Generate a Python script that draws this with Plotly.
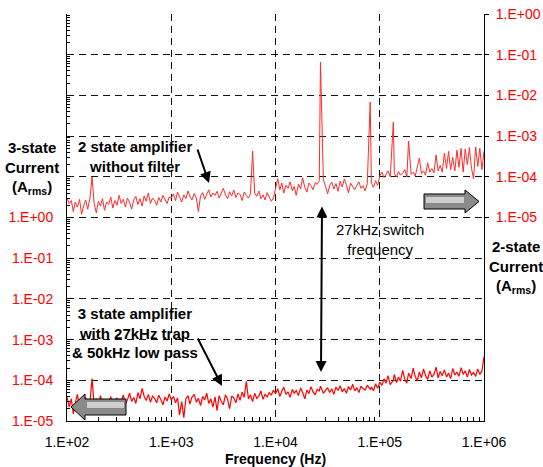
import numpy as np
import plotly.graph_objects as go

# Sweep frequencies (Hz)
freq_hz = [
    100, 105, 110, 115, 120, 126, 132, 138, 145, 151,
    158, 166, 174, 182, 191, 200, 209, 219, 229, 240,
    251, 263, 275, 288, 302, 316, 331, 347, 363, 380,
    398, 417, 437, 457, 479, 501, 525, 550, 575, 603,
    631, 661, 692, 724, 759, 794, 832, 871, 912, 955,
    1000, 1050, 1100, 1150, 1200, 1260, 1320, 1380, 1450, 1510,
    1580, 1660, 1740, 1820, 1910, 2000, 2090, 2190, 2290, 2400,
    2510, 2630, 2750, 2880, 3020, 3160, 3310, 3470, 3630, 3800,
    3980, 4170, 4370, 4570, 4790, 5010, 5250, 5500, 5750, 6030,
    6310, 6610, 6920, 7240, 7590, 7940, 8320, 8710, 9120, 9550,
    10000, 10500, 11000, 11500, 12000, 12600, 13200, 13800, 14500, 15100,
    15800, 16600, 17400, 18200, 19100, 20000, 20900, 21900, 22900, 24000,
    25100, 26300, 27000, 28800, 30200, 31600, 33100, 34700, 36300, 38000,
    39800, 41700, 43700, 45700, 47900, 50100, 52500, 55000, 57500, 60300,
    63100, 66100, 69200, 72400, 75900, 81000, 83200, 87100, 91200, 95500,
    100000, 105000, 110000, 115000, 120000, 126000, 135000, 138000, 145000, 151000,
    158000, 166000, 174000, 182000, 189000, 200000, 209000, 219000, 229000, 240000,
    251000, 263000, 275000, 288000, 302000, 316000, 331000, 347000, 363000, 380000,
    398000, 417000, 437000, 457000, 479000, 501000, 525000, 550000, 575000, 603000,
    631000, 661000, 692000, 724000, 759000, 794000, 832000, 871000, 912000, 955000,
    1000000,
]

# 2-state amplifier without filter, current in uA rms (right axis)
two_state_uA = [
    30, 22, 26, 14, 24, 18, 28, 12, 20, 27,
    16, 30, 100, 22, 13, 25, 19, 29, 15, 24,
    21, 32, 17, 26, 20, 35, 22, 28, 18, 30,
    24, 16, 27, 33, 21, 29, 19, 34, 25, 40,
    22, 30, 26, 20, 31, 24, 35, 27, 22, 32,
    30, 38, 26, 42, 31, 24, 36, 29, 45, 33,
    27, 39, 30, 14, 34, 41, 28, 37, 48, 32,
    40, 35, 44, 30, 38, 52, 36, 29, 43, 34,
    47, 31, 40, 37, 26, 42, 35, 30, 38, 430,
    40, 33, 45, 29, 36, 27, 41, 32, 25, 30,
    55, 90, 48, 70, 40, 62, 52, 75, 45, 58,
    35, 66, 50, 95, 55, 42, 70, 60, 48, 72,
    65, 80, 66000, 85, 58, 38, 62, 74, 50, 68,
    44, 78, 56, 88, 64, 40, 70, 58, 48, 62,
    75, 52, 60, 45, 68, 6900, 70, 55, 80, 62,
    105, 130, 95, 115, 140, 100, 2200, 120, 98, 135,
    110, 125, 150, 100, 760, 115, 130, 105, 170, 290,
    120, 140, 110, 220, 130, 160, 125, 345, 140, 190,
    130, 380, 160, 420, 150, 300, 140, 450, 170, 500,
    130, 480, 200, 520, 160, 90, 540, 180, 500, 150,
    420,
]

# 3-state amplifier with 27 kHz trap and 50 kHz low pass, uA rms (left axis)
three_state_uA = [
    40, 22, 35, 15, 28, 45, 20, 33, 26, 38,
    18, 30, 110, 25, 36, 21, 42, 28, 19, 34,
    27, 40, 23, 31, 37, 22, 29, 44, 26, 33,
    48, 30, 38, 27, 50, 35, 63, 40, 32, 45,
    29, 41, 36, 28, 43, 34, 25, 39, 31, 46,
    33, 40, 28, 37, 14, 30, 12, 35, 42, 26,
    38, 45, 29, 36, 24, 40, 33, 48, 27, 35,
    22, 39, 18, 42, 30, 25, 44, 34, 20, 41,
    37, 28, 46, 32, 52, 38, 95, 35, 44, 30,
    48, 36, 41, 55, 34, 45, 39, 50, 43, 58,
    47, 62, 40, 55, 68, 45, 52, 38, 60, 48,
    56, 42, 65, 50, 35, 58, 47, 70, 52, 44,
    60, 55, 72, 48, 58, 66, 50, 62, 45, 68,
    56, 74, 52, 63, 48, 70, 58, 80, 55, 66,
    50, 72, 62, 58, 76, 60, 68, 55, 82, 64,
    90, 75, 110, 85, 130, 78, 100, 140, 88, 120,
    95, 175, 105, 85, 150, 110, 200, 125, 95, 160,
    115, 190, 130, 105, 170, 120, 140, 210, 115, 165,
    130, 180, 120, 150, 110, 195, 135, 160, 125, 205,
    140, 170, 120, 185, 135, 155, 125, 190, 140, 170,
    385,
]

x_tick_vals = [1e2, 1e3, 1e4, 1e5, 1e6]
x_tick_text = ["1.E+02", "1.E+03", "1.E+04", "1.E+05", "1.E+06"]
y_tick_vals = [1e-5, 1e-4, 1e-3, 1e-2, 1e-1, 1e0]
y_tick_text = ["1.E-05", "1.E-04", "1.E-03", "1.E-02", "1.E-01", "1.E+00"]

FONT = "Liberation Sans, Arial, sans-serif"
RED = "#ff0000"
GRID = dict(showgrid=True, gridcolor="#111111", gridwidth=1, griddash="7px,5px")

# page geometry (pixels) of the plotting area
W, H = 543, 467
L, R, T, B = 67, 484, 14, 421


def px(x):
    return (x - L) / (R - L)


def py(y):
    return (B - y) / (B - T)


minor_x = [m * 10.0 ** d for d in range(2, 6) for m in range(2, 10)]
minor_y = [m * 10.0 ** d for d in range(-5, 5) for m in range(2, 10)]

f = np.array(freq_hz, dtype=float)
fig = go.Figure()
fig.add_trace(go.Scatter(
    x=f, y=np.array(three_state_uA) * 1e-6, yaxis="y", mode="lines",
    line=dict(color=RED, width=1.2), hoverinfo="skip", showlegend=False))
fig.add_trace(go.Scatter(
    x=f, y=np.array(two_state_uA) * 1e-6, yaxis="y2", mode="lines",
    line=dict(color="#ff2a2a", width=1), hoverinfo="skip", showlegend=False))

fig.update_layout(
    width=W, height=H,
    margin=dict(l=L, r=W - R, t=T, b=H - B, autoexpand=False),
    paper_bgcolor="white", plot_bgcolor="white",
    font=dict(family=FONT, size=14, color="black"),
    showlegend=False,
    xaxis=dict(
        type="log", range=[2, 6], showline=True, linecolor="black", linewidth=1,
        tickmode="array", tickvals=x_tick_vals, ticktext=x_tick_text, ticks="",
        tickfont=dict(size=14, color="black"), ticklabelstandoff=8,
        zeroline=False, automargin=False,
        minor=dict(tickmode="array", tickvals=minor_x, ticks="inside",
                   ticklen=4, tickcolor="black", showgrid=False),
        **GRID),
    yaxis=dict(
        type="log", range=[-5, 5], side="left", showline=True, linecolor="black",
        linewidth=1, tickmode="array", tickvals=y_tick_vals, ticktext=y_tick_text,
        ticks="inside", ticklen=5, tickcolor="black",
        tickfont=dict(size=14, color=RED), ticklabelstandoff=10,
        zeroline=False, automargin=False,
        minor=dict(tickmode="array", tickvals=minor_y, ticks="inside",
                   ticklen=3, tickcolor="black", showgrid=False),
        **GRID),
    yaxis2=dict(
        type="log", range=[-10, 0], side="right", overlaying="y", showline=True,
        linecolor="black", linewidth=1, tickmode="array", tickvals=y_tick_vals,
        ticktext=y_tick_text, ticks="outside", ticklen=4, tickcolor="black",
        tickfont=dict(size=14, color=RED), ticklabelstandoff=4,
        zeroline=False, automargin=False,
        **GRID),
)


def block_arrow(pts, fill_light):
    path = "M " + " L ".join(f"{px(x):.5f},{py(y):.5f}" for x, y in pts) + " Z"
    return path


# grey block arrows pointing to each series' axis
right_arrow = [(424, 194), (465, 194), (465, 190), (479, 201.5), (465, 213),
               (465, 209), (424, 209)]
left_arrow = [(71, 407), (85, 394), (85, 399), (126, 399), (126, 415),
              (85, 415), (85, 420)]
right_glint = [(426, 197), (464, 197), (464, 203), (426, 203)]
left_glint = [(87, 402), (124, 402), (124, 408), (87, 408)]
for body, glint in ((right_arrow, right_glint), (left_arrow, left_glint)):
    fig.add_shape(type="path", xref="paper", yref="paper",
                  path=block_arrow(body, None), fillcolor="#8a8a8a",
                  line=dict(color="black", width=1), layer="above")
    fig.add_shape(type="path", xref="paper", yref="paper",
                  path=block_arrow(glint, None), fillcolor="#cfcfcf",
                  line=dict(width=0), layer="above")


def text(x, y, s, size=15):
    fig.add_annotation(x=px(x), y=py(y), xref="paper", yref="paper", text=s,
                       showarrow=False, xanchor="center", yanchor="middle",
                       font=dict(family=FONT, size=size, color="black"))


def arrow(tip, tail, both=False):
    fig.add_annotation(x=px(tip[0]), y=py(tip[1]), xref="paper", yref="paper",
                       text="", showarrow=True, ax=tail[0] - tip[0],
                       ay=tail[1] - tip[1], arrowhead=2, arrowsize=1.1,
                       arrowwidth=2, arrowcolor="black", standoff=0,
                       startstandoff=0,
                       arrowside="end+start" if both else "end",
                       startarrowhead=2, startarrowsize=1.1)


text(32, 168, "<b>3-state<br>Current<br>(A<sub>rms</sub>)</b>")
text(516, 267, "<b>2-state<br>Current<br>(A<sub>rms</sub>)</b>")
text(135, 157, "<b>2 state amplifier<br>without filter</b>")
text(135, 333, "<b>3 state amplifier<br>with 27kHz trap<br>&amp; 50kHz low pass</b>")
text(380, 239, "27kHz switch<br>frequency")
text(275, 459, "<b>Frequency (Hz)</b>", size=14)

arrow((209, 183), (197, 148))
arrow((222, 386), (197, 337))
arrow((321, 372), (322, 205), both=True)

fig.write_html("out.html")
